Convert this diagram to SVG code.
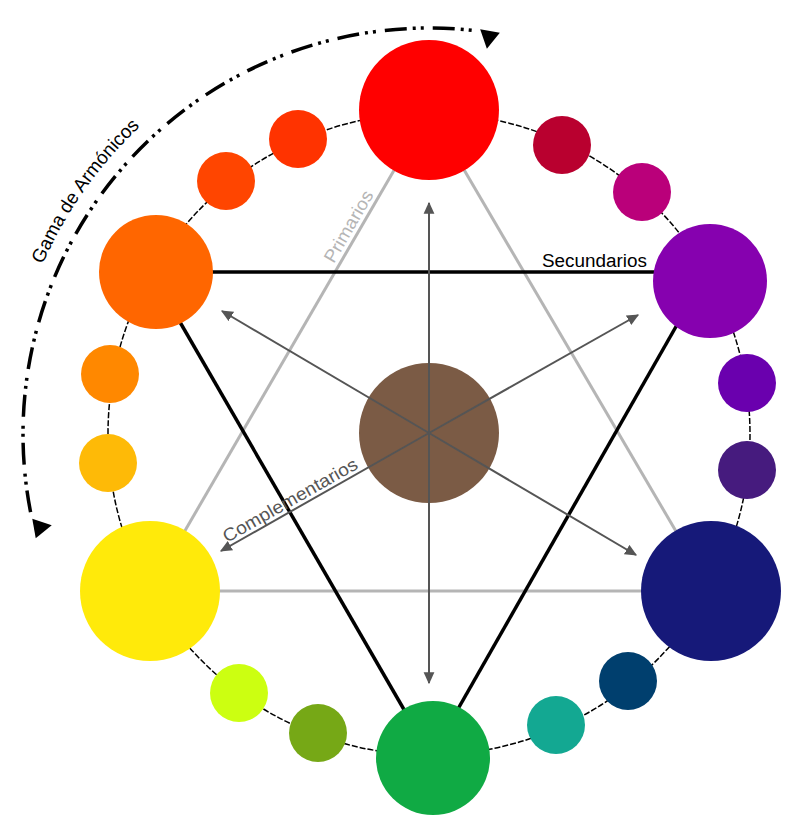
<svg xmlns="http://www.w3.org/2000/svg" xmlns:xlink="http://www.w3.org/1999/xlink" width="805" height="839" viewBox="0 0 805 839">
<style>
.ring{fill:none;stroke:#000;stroke-width:1.5;stroke-dasharray:6 2}
.prim{stroke:#B5B5B5;stroke-width:3;fill:none}
.sec{stroke:#000;stroke-width:3.5;fill:none}
.comp{stroke:#555;stroke-width:2;fill:none;marker-end:url(#ah)}
.gama{fill:none;stroke:#000;stroke-width:3.5;stroke-dasharray:22 6 3 5 3 9}
.lbl{font-family:"Liberation Sans",Arial,sans-serif;font-size:18px}
</style>
<defs>
<marker id="ah" markerUnits="userSpaceOnUse" markerWidth="12" markerHeight="12" viewBox="0 -5 10 10" refX="9" refY="0" orient="auto">
<path d="M0,-4.5 L10,0 L0,4.5 Z" fill="#555"/>
</marker>
<path id="tri" d="M0,-10 L18,0 L0,10 Z" fill="#000"/>
<path id="gamaPath" d="M42.6,264.4 A422,422 0 0 1 218,68.5"/>
</defs>
<rect width="805" height="839" fill="#fff"/>
<g id="connectors">
<circle class="ring" cx="429" cy="434" r="321"/>
<line class="prim" x1="429" y1="110" x2="150" y2="591"/>
<line class="prim" x1="429" y1="110" x2="711" y2="591"/>
<line class="prim" x1="150" y1="591" x2="711" y2="591"/>
<line class="sec" x1="156" y1="272" x2="708" y2="272"/>
<line class="sec" x1="151" y1="272" x2="432" y2="758"/>
<line class="sec" x1="702" y1="281" x2="430" y2="758"/>
<path class="gama" d="M30.6,512.2 A406,406 0 0 1 476.4,30.8"/>
<use xlink:href="#tri" transform="translate(490,31) rotate(100)"/>
<use xlink:href="#tri" transform="translate(34,528.5) rotate(-10)"/>
</g>
<g id="n-red"><circle cx="429" cy="110" r="70" fill="#FF0000"/></g>
<g id="n-redorange1"><circle cx="298" cy="139" r="29" fill="#FF3300"/></g>
<g id="n-redorange2"><circle cx="226" cy="181" r="29" fill="#FF4500"/></g>
<g id="n-orange"><circle cx="156" cy="272" r="57" fill="#FF6600"/></g>
<g id="n-orangeyellow1"><circle cx="110" cy="374" r="29" fill="#FF8800"/></g>
<g id="n-orangeyellow2"><circle cx="108" cy="463" r="29" fill="#FEBA07"/></g>
<g id="n-yellow"><circle cx="150" cy="591" r="70" fill="#FFEA0A"/></g>
<g id="n-lime"><circle cx="239" cy="693" r="29" fill="#CCFF11"/></g>
<g id="n-olive"><circle cx="318" cy="733" r="29" fill="#76A816"/></g>
<g id="n-green"><circle cx="433" cy="758" r="57" fill="#10AA44"/></g>
<g id="n-teal"><circle cx="556" cy="725" r="29" fill="#13A892"/></g>
<g id="n-petrol"><circle cx="628" cy="681" r="29" fill="#003F6E"/></g>
<g id="n-navy"><circle cx="711" cy="591" r="70" fill="#161979"/></g>
<g id="n-indigo"><circle cx="747" cy="470" r="29" fill="#461B7E"/></g>
<g id="n-violet"><circle cx="747" cy="383" r="29" fill="#6A00AE"/></g>
<g id="n-purple"><circle cx="710" cy="281" r="57" fill="#8601AF"/></g>
<g id="n-magenta"><circle cx="642" cy="192" r="29" fill="#BA007A"/></g>
<g id="n-crimson"><circle cx="562" cy="145" r="29" fill="#B9002F"/></g>
<g id="n-center"><circle cx="429" cy="433" r="70" fill="#7B5B45"/></g>
<g id="arrows">
<line class="comp" x1="429" y1="433" x2="429" y2="203"/>
<line class="comp" x1="429" y1="433" x2="429" y2="683"/>
<line class="comp" x1="429" y1="433" x2="222" y2="311"/>
<line class="comp" x1="429" y1="433" x2="638" y2="315"/>
<line class="comp" x1="429" y1="433" x2="221" y2="551"/>
<line class="comp" x1="429" y1="433" x2="636" y2="555"/>
</g>
<g id="labels">
<text class="lbl" fill="#B5B5B5" x="353.9" y="229.5" text-anchor="middle" textLength="80" lengthAdjust="spacingAndGlyphs" transform="rotate(-59.9 353.9 229.5)">Primarios</text>
<text class="lbl" fill="#000" x="542" y="267" textLength="105" lengthAdjust="spacingAndGlyphs">Secundarios</text>
<text class="lbl" fill="#555" x="227" y="543" textLength="152" lengthAdjust="spacingAndGlyphs" transform="rotate(-29.6 227 543)">Complementarios</text>
<text class="lbl" fill="#000" font-size="19" style="font-size:19px"><textPath xlink:href="#gamaPath" textLength="170" lengthAdjust="spacingAndGlyphs">Gama de Armónicos</textPath></text>
</g>
</svg>
